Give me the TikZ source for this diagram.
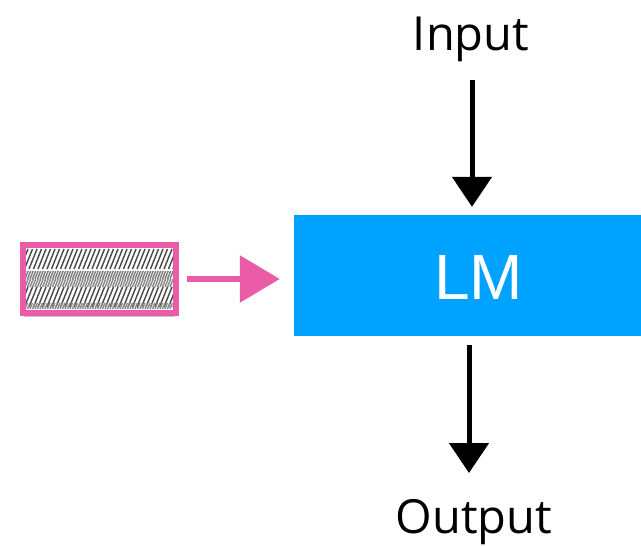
\documentclass[tikz,border=0pt]{standalone}
\usepackage{fontspec}
\setmainfont{Liberation Sans}
\newfontfamily\labelfont{Open Sans}
\usetikzlibrary{arrows.meta,shadows}

\definecolor{lmblue}{RGB}{0,162,255}
\definecolor{docpink}{RGB}{234,92,168}

\tikzset{
  lmbox/.style={fill=lmblue, draw=none, inner sep=0pt},
  iolabel/.style={font=\labelfont\fontsize{47}{50}\selectfont, inner sep=0pt, anchor=base},
  flowarrow/.style={draw=black, line width=5pt, -{Triangle[width=39pt,length=30pt]}},
  docarrow/.style={draw=docpink, line width=6pt, -{Triangle[width=46pt,length=40pt]}},
  docbox/.style={draw=docpink, line width=4pt, fill=white, inner sep=0pt,
    drop shadow={shadow xshift=0pt, shadow yshift=-5pt, opacity=.45}}
}

\begin{document}
\begin{tikzpicture}[x=1pt, y=-1pt]
  \useasboundingbox (0,0) rectangle (641,546);

  % === Modello ===
  \node[lmbox, minimum width=347pt, minimum height=121pt] (lm) at (467.5,275.5) {};
  \node[font=\fontsize{64}{66}\selectfont, text=white, inner sep=0pt] (lmtext) at (478.5,277) {LM};

  % === Input / Output ===
  \node[iolabel] (input) at (471,50) {Input};
  \node[iolabel] (output) at (474,533) {Output};

  \coordinate (inTop) at (472,80);
  \coordinate (outEnd) at (469,473);
  \draw[flowarrow, shorten >=8pt] (inTop) -- (inTop |- lm.north);
  \draw[flowarrow, shorten <=9pt] (lm.south -| outEnd) -- (outEnd);

  % === Documento ===
  \node[docbox, minimum width=151pt, minimum height=66pt] (doc) at (99.5,279) {};
  \begin{scope}
    \clip (26,248) rectangle (173,310);
    % righe di testo confuso
    \foreach \y/\h/\s/\c in {259/10/4.5/70, 275/4/2.5/50, 283/4/2.5/45, 297/10/4.5/70, 306/3/2.5/45} {
      \foreach \i in {0,...,60} {
        \draw[black!\c, line width=1.4pt] (20+\s*\i,\y+\h) -- (20+\s*\i+0.8*\h,\y-\h);
      }
    }
  \end{scope}
  \draw[docpink, line width=4pt] (doc.south west) rectangle (doc.north east);

  % Freccia documento -> LM
  \draw[docarrow, shorten <=10pt, shorten >=14pt] (doc.east) -- (doc.east -| lm.west);

\end{tikzpicture}
\end{document}
